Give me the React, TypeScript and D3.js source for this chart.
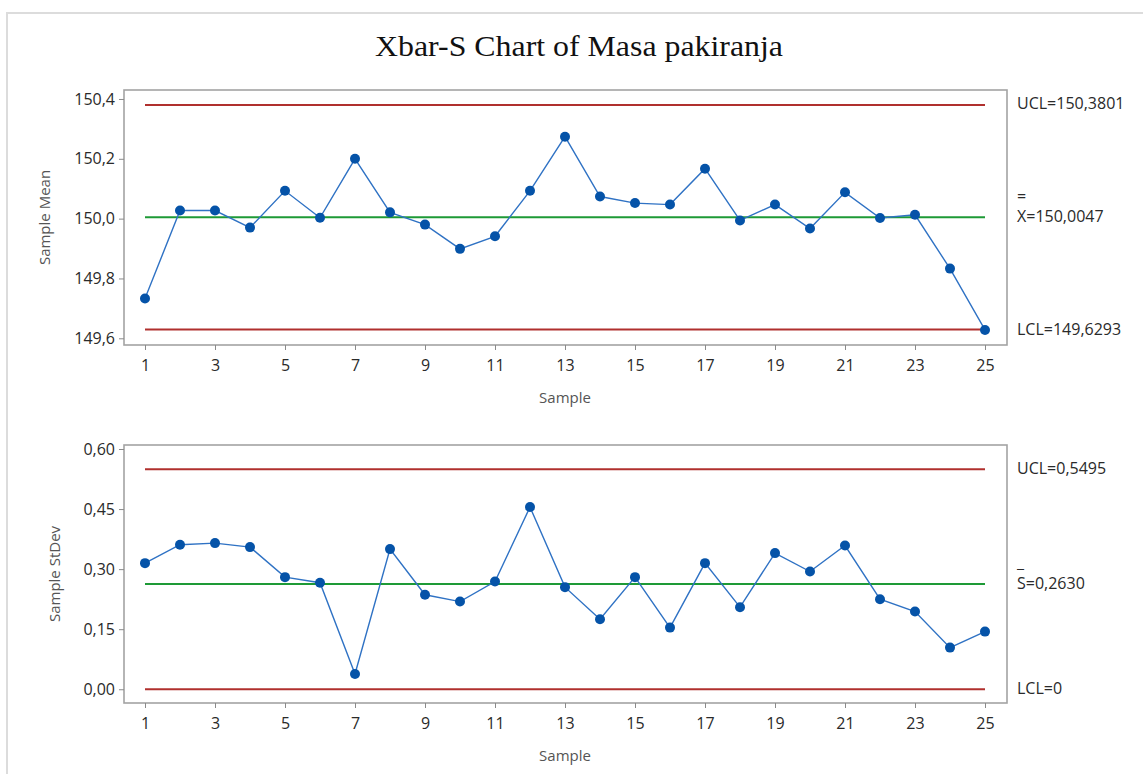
import React, { useEffect, useRef } from "react";
import * as d3 from "d3";

const samples = [1, 2, 3, 4, 5, 6, 7, 8, 9, 10, 11, 12, 13, 14, 15, 16, 17, 18, 19, 20, 21, 22, 23, 24, 25];
const xTickValues = [1, 3, 5, 7, 9, 11, 13, 15, 17, 19, 21, 23, 25];

const sampleMeans = [
  149.733, 150.027, 150.027, 149.970, 150.093, 150.003, 150.200, 150.021, 149.980, 149.899,
  149.941, 150.093, 150.274, 150.074, 150.052, 150.047, 150.167, 149.994, 150.047, 149.967,
  150.088, 150.002, 150.013, 149.833, 149.628,
];
const sampleStDevs = [
  0.315, 0.361, 0.365, 0.355, 0.280, 0.266, 0.038, 0.350, 0.236, 0.219,
  0.269, 0.455, 0.255, 0.175, 0.280, 0.154, 0.315, 0.205, 0.340, 0.294,
  0.359, 0.225, 0.194, 0.104, 0.144,
];

const meanTicks = [149.6, 149.8, 150.0, 150.2, 150.4];
const sdTicks = [0.0, 0.15, 0.3, 0.45, 0.6];

const meanLimits = { ucl: 150.3801, cl: 150.0047, lcl: 149.6293 };
const sdLimits = { ucl: 0.5495, cl: 0.263, lcl: 0 };

const meanLabels = { ucl: "UCL=150,3801", clBar: "=", cl: "X=150,0047", lcl: "LCL=149,6293" };
const sdLabels = { ucl: "UCL=0,5495", clBar: "_", cl: "S=0,2630", lcl: "LCL=0" };

const W = 1143;
const H = 774;
const locale = d3.formatLocale({ decimal: ",", thousands: ".", grouping: [3], currency: ["", ""] });

const SANS = "'Open Sans', 'Noto Sans', sans-serif";

export default function App() {
  const ref = useRef<SVGSVGElement | null>(null);

  useEffect(() => {
    const svg = d3.select(ref.current);
    svg.selectAll("*").remove();

    // outer frame
    svg.append("path")
      .attr("d", `M7,${H + 2} L7,13 L${W + 2},13`)
      .attr("fill", "none")
      .attr("stroke", "#dcdcdc")
      .attr("stroke-width", 2);

    svg.append("text")
      .attr("x", 579)
      .attr("y", 56)
      .attr("text-anchor", "middle")
      .attr("font-family", "'Liberation Serif', 'Times New Roman', serif")
      .attr("font-size", 30)
      .attr("textLength", 408)
      .attr("lengthAdjust", "spacingAndGlyphs")
      .attr("fill", "#111")
      .text("Xbar-S Chart of Masa pakiranja");

    const x = d3.scaleLinear().domain([1, 25]).range([145, 985]);

    const panels = [
      {
        top: 90, bottom: 345, domain: [149.5776, 150.43], ticks: meanTicks, fmt: locale.format(".1f"),
        values: sampleMeans, limits: meanLimits, labels: meanLabels, title: "Sample Mean", titleX: 45,
        labelY: { ucl: 103, bar: 196, cl: 216, lcl: 329 },
      },
      {
        top: 445, bottom: 703, domain: [-0.0343, 0.61], ticks: sdTicks, fmt: locale.format(".2f"),
        values: sampleStDevs, limits: sdLimits, labels: sdLabels, title: "Sample StDev", titleX: 55,
        labelY: { ucl: 468, bar: 562, cl: 583, lcl: 688 },
      },
    ];

    panels.forEach((p) => {
      const y = d3.scaleLinear().domain(p.domain).range([p.bottom, p.top]);
      const g = svg.append("g");

      // frame
      g.append("rect")
        .attr("x", 124).attr("y", p.top)
        .attr("width", 1007 - 124).attr("height", p.bottom - p.top)
        .attr("fill", "white").attr("stroke", "#a3a3a3").attr("stroke-width", 1.6);

      // y axis
      const ya = g.append("g").attr("transform", "translate(124,0)")
        .call(d3.axisLeft(y).tickValues(p.ticks).tickSize(5).tickPadding(4).tickFormat((d: any) => p.fmt(d)));
      ya.select(".domain").remove();
      ya.selectAll(".tick line").attr("stroke", "#8a8a8a");
      ya.selectAll(".tick text").attr("font-family", SANS).attr("font-size", 16).attr("fill", "#2a2a2a");

      // x axis
      const xa = g.append("g").attr("transform", `translate(0,${p.bottom})`)
        .call(d3.axisBottom(x).tickValues(xTickValues).tickSize(5).tickPadding(10).tickFormat(d3.format("d")));
      xa.select(".domain").remove();
      xa.selectAll(".tick line").attr("stroke", "#8a8a8a");
      xa.selectAll(".tick text").attr("font-family", SANS).attr("font-size", 16).attr("fill", "#2a2a2a");

      // axis titles
      g.append("text")
        .attr("transform", `translate(${p.titleX},${(p.top + p.bottom) / 2}) rotate(-90)`)
        .attr("text-anchor", "middle").attr("dy", "0.35em")
        .attr("font-family", SANS).attr("font-size", 15).attr("fill", "#555")
        .text(p.title);
      g.append("text")
        .attr("x", 565).attr("y", p.bottom + 53)
        .attr("text-anchor", "middle").attr("dy", "0.35em")
        .attr("font-family", SANS).attr("font-size", 15).attr("fill", "#555")
        .text("Sample");

      // control lines
      const limitLine = (v: number, color: string) =>
        g.append("line")
          .attr("x1", x(1)).attr("x2", x(25))
          .attr("y1", y(v)).attr("y2", y(v))
          .attr("stroke", color).attr("stroke-width", 2);
      limitLine(p.limits.ucl, "#b0302e");
      limitLine(p.limits.lcl, "#b0302e");
      limitLine(p.limits.cl, "#1e9a36");

      // series
      const line = d3.line<number>().x((_, i) => x(samples[i])).y((d) => y(d));
      g.append("path").datum(p.values)
        .attr("d", line)
        .attr("fill", "none").attr("stroke", "#2f72c4").attr("stroke-width", 1.4);
      g.selectAll("circle.pt").data(p.values).enter().append("circle")
        .attr("class", "pt")
        .attr("cx", (_, i) => x(samples[i])).attr("cy", (d) => y(d))
        .attr("r", 5).attr("fill", "#0553a8");

      // right labels
      const lab = (t: string, yy: number) =>
        g.append("text").attr("x", 1017).attr("y", yy).attr("dy", "0.35em")
          .attr("font-family", SANS).attr("font-size", 16).attr("fill", "#2a2a2a").text(t);
      lab(p.labels.ucl, p.labelY.ucl);
      lab(p.labels.clBar, p.labelY.bar);
      lab(p.labels.cl, p.labelY.cl);
      lab(p.labels.lcl, p.labelY.lcl);
    });
  }, []);

  return (
    <svg
      ref={ref}
      width={W}
      height={H}
      style={{ position: "absolute", left: 0, top: 0, display: "block", background: "white" }}
    />
  );
}
